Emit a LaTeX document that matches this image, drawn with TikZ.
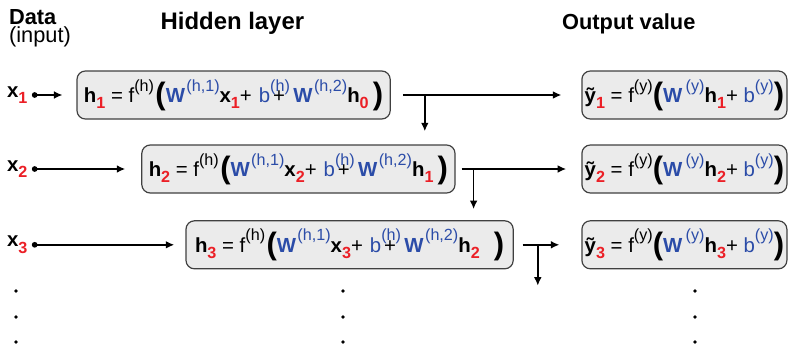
\documentclass[tikz,border=0pt]{standalone}
\usepackage{fontspec}
\setmainfont{Liberation Sans}
\usepackage{xcolor}
\usetikzlibrary{positioning,arrows.meta}
\definecolor{idxred}{rgb}{0.92,0.12,0.15}
\definecolor{wblue}{rgb}{0.17,0.30,0.66}

% time index (red, lowered) and function/weight labels (raised)
\newcommand{\tix}[1]{\raisebox{-0.6ex}{\fontsize{11.5}{11.5}\selectfont\bfseries\color{idxred}#1}}
\newcommand{\lbl}[1]{\raisebox{1.05ex}{\fontsize{11.5}{11.5}\selectfont\mdseries #1}}
\newcommand{\bigopen}{{\fontsize{22}{22}\selectfont\bfseries\raisebox{-0.12ex}{(}}}
\newcommand{\bigclose}{{\fontsize{22}{22}\selectfont\bfseries\raisebox{-0.12ex}{)}}}
% hidden state update and output of step #1
\newcommand{\hstep}[2]{\textbf{h}\tix{#1} = f\lbl{(h)}\kern1pt\bigopen{\color{wblue}\textbf{W}\kern1pt\lbl{(h,1)}}\textbf{x}\tix{#1}+\hspace{5pt}{\color{wblue}b\rlap{\lbl{(h)}}}\kern2pt+\hspace{6pt}{\color{wblue}\textbf{W}\kern1pt\lbl{(h,2)}}\textbf{h}\tix{#2}}
\newcommand{\ystep}[1]{\textbf{ỹ}\tix{#1} = f\lbl{(y)}\bigopen{\color{wblue}\textbf{W}\,\lbl{(y)}}\textbf{h}\tix{#1}+ {\color{wblue}b\lbl{(y)}}\bigclose}

\begin{document}
\begin{tikzpicture}[
  head/.style={font=\fontsize{15.5}{12.5}\selectfont, inner sep=0pt},
  inlabel/.style={font=\fontsize{14.5}{16}\selectfont, inner sep=2pt},
  cell/.style={rectangle, draw=black!75, line width=0.85pt, fill=black!8,
               rounded corners=6pt, minimum height=1.2cm, inner sep=2pt,
               font=\fontsize{14.5}{16}\selectfont},
  flow/.style={-{Latex[length=6pt,width=5.5pt]}, line width=1pt},
  feed/.style={{Circle[length=4pt]}-{Latex[length=6pt,width=5.5pt]}, line width=1pt}
]
\useasboundingbox (0,0) rectangle (19.75,-8.6);
% column headers
\node[head, anchor=west, align=left] (data) at (0.22,-0.71) {\textbf{Data}\\(input)};
\node[head, font=\fontsize{17}{17}\selectfont] (hid) at (5.81,-0.59) {\textbf{Hidden layer}};
\node[head] (out) at (15.72,-0.59) {\textbf{Output value}};
% inputs
\node[inlabel] (x1) at (0.43,-2.375) {\textbf{x}\tix{1}};
\node[inlabel] (x2) at (0.43,-4.225) {\textbf{x}\tix{2}};
\node[inlabel] (x3) at (0.43,-6.12)  {\textbf{x}\tix{3}};
% hidden states, shifted right step by step
\node[cell, minimum width=7.83cm] (h1) at (5.84,-2.375) {\hstep{1}{0}\kern3pt\bigclose};
\node[cell, minimum width=7.83cm] (h2) at (7.46,-4.225) {\hstep{2}{1}\kern3pt\bigclose};
\node[cell, minimum width=8.18cm] (h3) at (8.74,-6.12)  {\hstep{3}{2}\hspace{10pt}\bigclose};
% outputs
\node[cell, minimum width=5.08cm] (y1) at (17.11,-2.375) {\ystep{1}};
\node[cell, minimum width=5.08cm] (y2) at (17.11,-4.225) {\ystep{2}};
\node[cell, minimum width=5.08cm] (y3) at (17.11,-6.12)  {\ystep{3}};
% input arrows
\draw[feed, shorten <=1pt, shorten >=0.35cm] (x1) -- (h1);
\draw[feed, shorten <=1pt, shorten >=0.4cm]  (x2) -- (h2);
\draw[feed, shorten <=1pt, shorten >=0.28cm] (x3) -- (h3);
% outputs and hand-over to the next step
\draw[flow, shorten <=0.3cm, shorten >=0.5cm] (h1) -- (y1);
\draw[flow, shorten <=0.15cm, shorten >=0.38cm] (h2) -- (y2);
\draw[flow, shorten <=0.22cm, shorten >=0.55cm] (h3) -- (y3);
\coordinate (s1) at ([xshift=0.85cm]h1.east);
\coordinate (s2) at ([xshift=0.45cm]h2.east);
\coordinate (s3) at ([xshift=0.6cm]h3.east);
\coordinate (e3) at ([yshift=-1.02cm]s3);
\draw[flow, shorten >=0.33cm] (s1) -- (s1 |- h2.north);
\draw[flow, shorten >=0.28cm] (s2) -- (s2 |- h3.north);
\draw[flow] (s3) -- (e3);
% vertical ellipses
\foreach \cx in {0.4,8.575,17.375}
  \foreach \cy in {-7.275,-7.925,-8.55}
    \fill (\cx,\cy) circle (0.045);
\end{tikzpicture}
\end{document}
